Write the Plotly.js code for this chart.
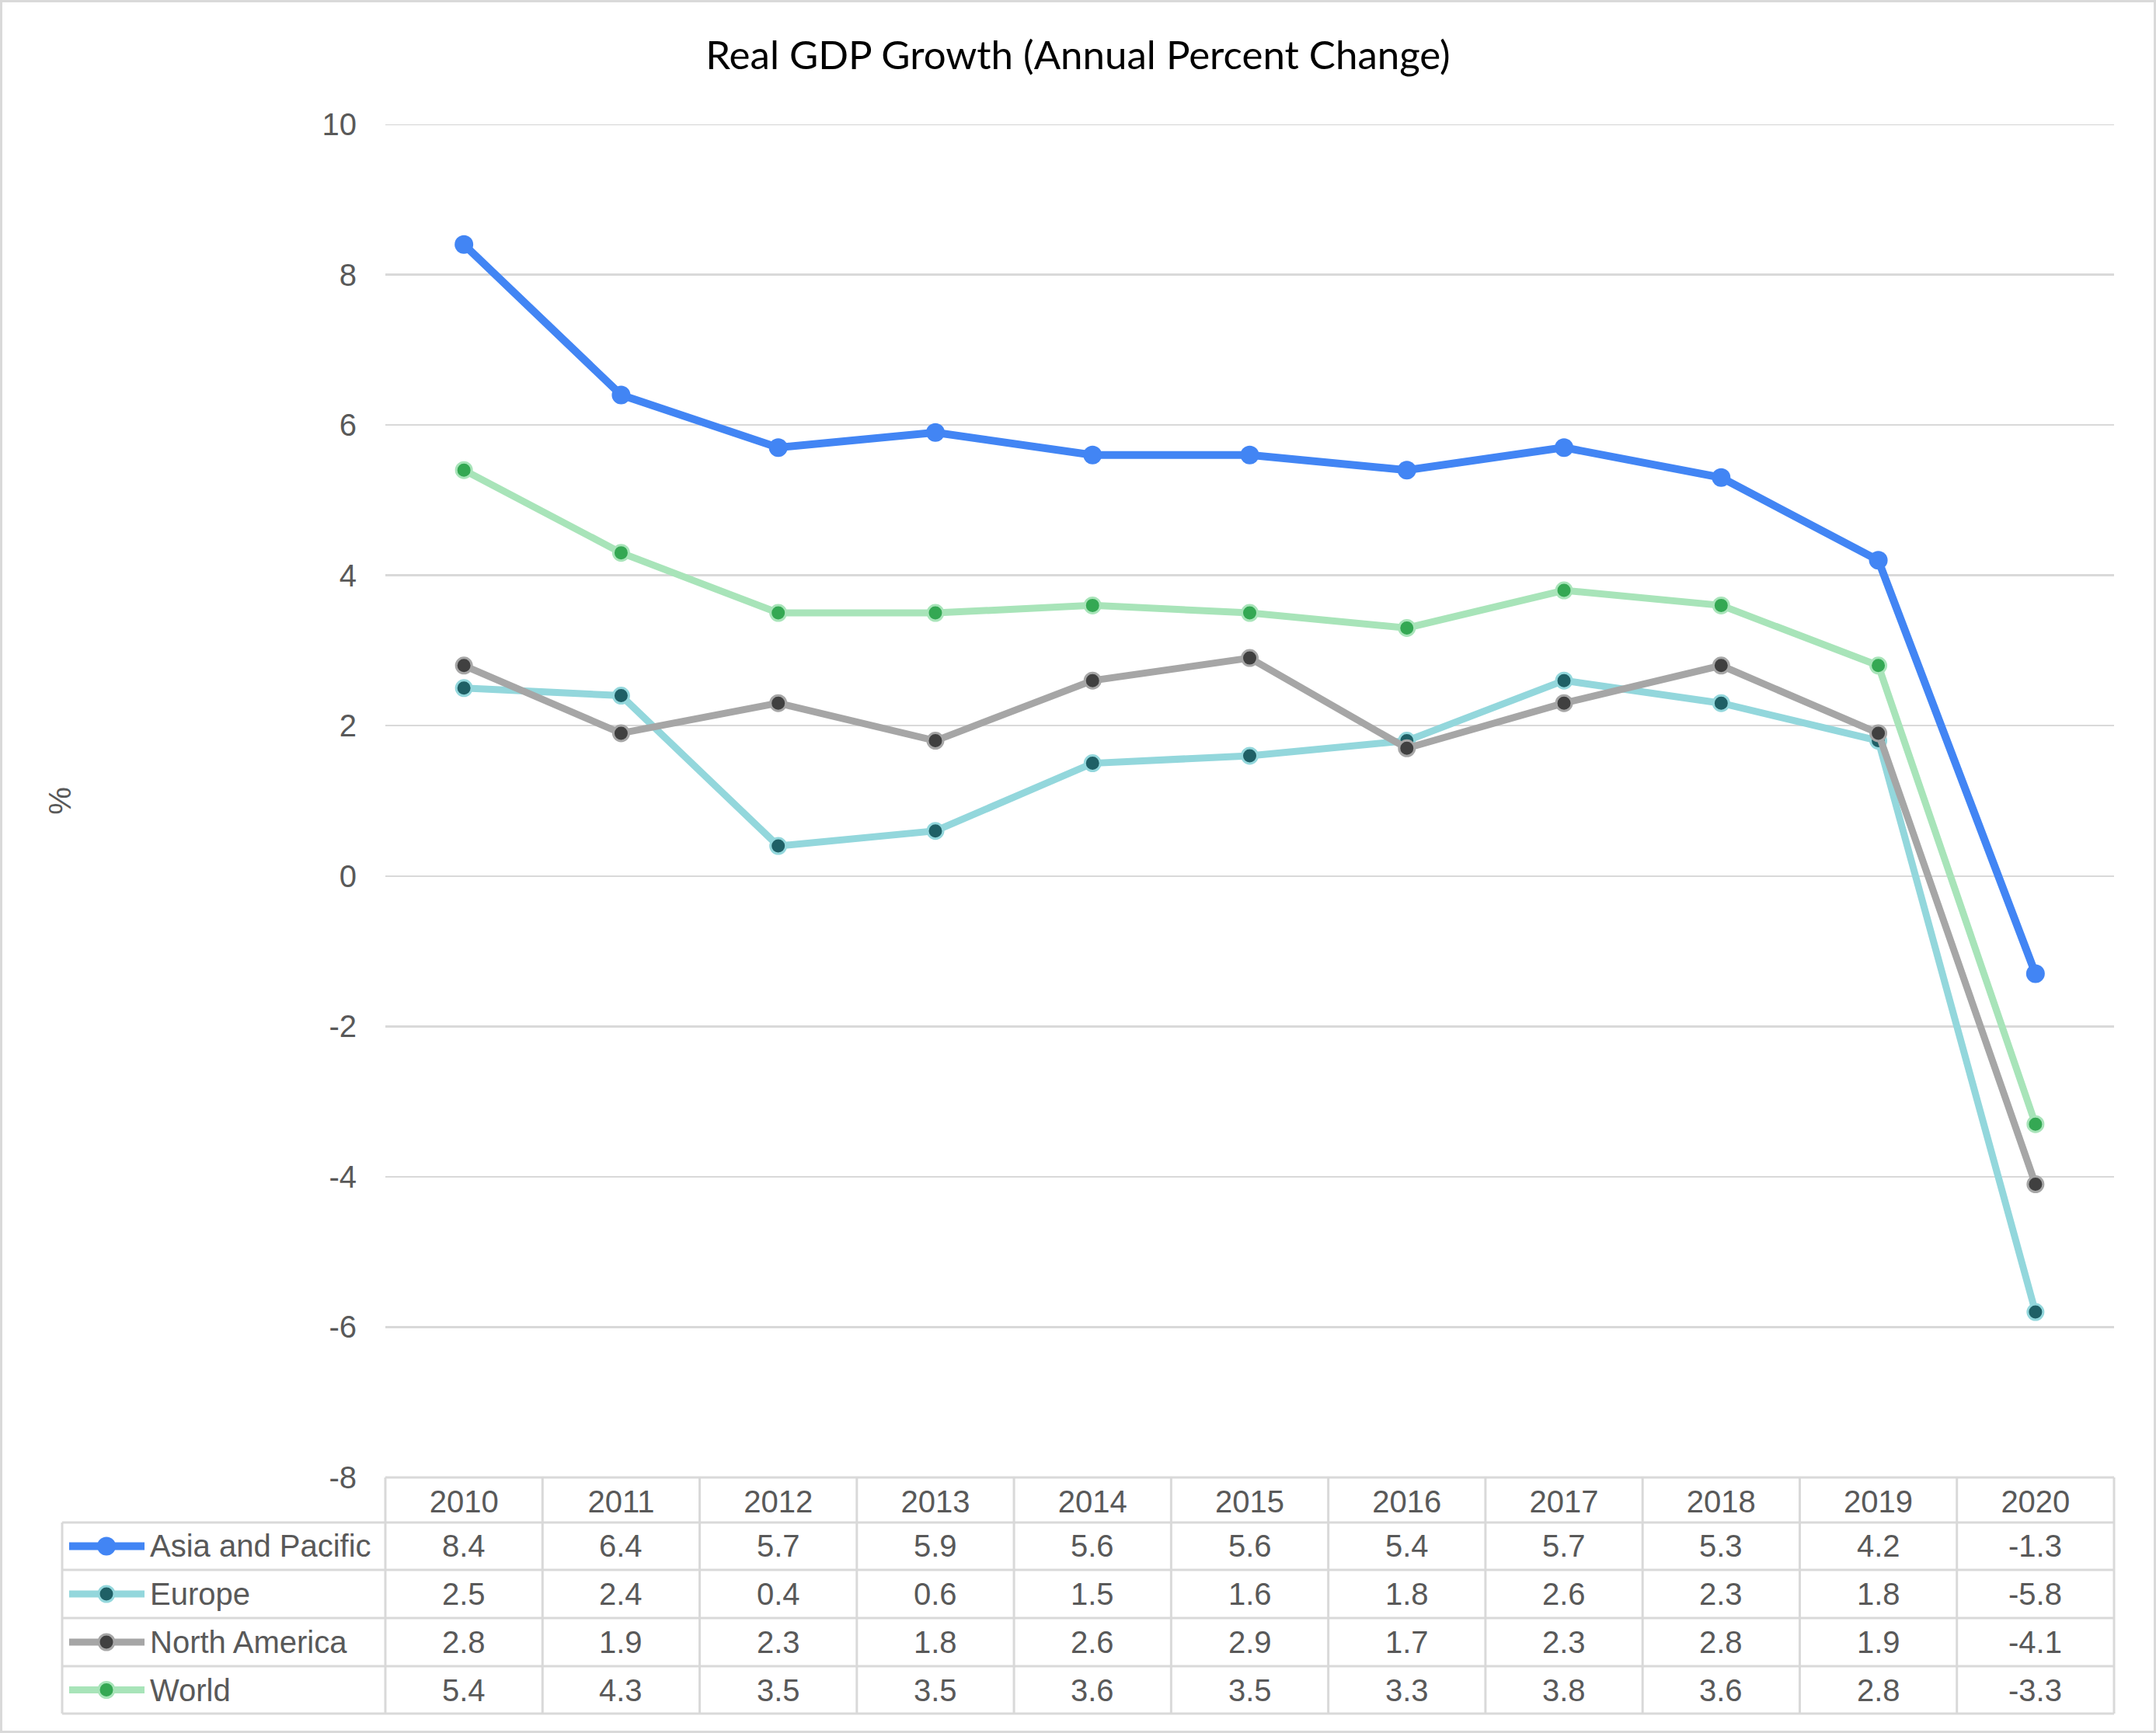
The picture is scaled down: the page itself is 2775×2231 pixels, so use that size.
<!DOCTYPE html>
<html><head><meta charset="utf-8">
<script src="https://cdn.plot.ly/plotly-3.0.1.min.js"></script>
<style>html,body{margin:0;padding:0;background:#fff;overflow:hidden}</style>
</head><body><div id="chart" style="width:2775px;height:2231px"></div>
<script>
// ---- data ----
const years = ['2010','2011','2012','2013','2014','2015','2016','2017','2018','2019','2020'];
const seriesNames = ['Asia and Pacific','Europe','North America','World'];
const asiaPacific = [8.4,6.4,5.7,5.9,5.6,5.6,5.4,5.7,5.3,4.2,-1.3];
const europe = [2.5,2.4,0.4,0.6,1.5,1.6,1.8,2.6,2.3,1.8,-5.8];
const northAmerica = [2.8,1.9,2.3,1.8,2.6,2.9,1.7,2.3,2.8,1.9,-4.1];
const world = [5.4,4.3,3.5,3.5,3.6,3.5,3.3,3.8,3.6,2.8,-3.3];
const yTickVals = [-8,-6,-4,-2,0,2,4,6,8,10];
const yTickText = ['-8','-6','-4','-2','0','2','4','6','8','10'];
const chartTitle = 'Real GDP Growth (Annual Percent Change)';
const yTitle = '%';

// ---- styles / layout geometry ----
const W = 2775, H = 2231;
const L = 496, R = 2721, T = 160, B = 1902;
const tableLeft = 80;
const rowEdges = [1960, 2021, 2083, 2145, 2206];
const gridColor = '#d9d9d9';
const textColor = '#595959';
const tableFont = 'Liberation Sans, Arial, sans-serif';
const styles = [
  {line:'#4285F4', fill:'#4285F4', border:'#4285F4', width:10, size:24, bw:0},
  {line:'#93D7DC', fill:'#1F6066', border:'#93D7DC', width:9, size:20, bw:3},
  {line:'#A6A6A6', fill:'#404040', border:'#A6A6A6', width:9, size:20, bw:3},
  {line:'#A8E4B9', fill:'#34A853', border:'#A8E4B9', width:9, size:20, bw:3}
];
const allSeries = [asiaPacific, europe, northAmerica, world];

const px = x => (x - L) / (R - L);
const py = y => (B - y) / (B - T);

const traces = allSeries.map((vals, i) => ({
  type: 'scatter', mode: 'lines+markers', name: seriesNames[i],
  x: years, y: vals,
  line: {color: styles[i].line, width: styles[i].width},
  marker: {color: styles[i].fill, size: styles[i].size, line: {color: styles[i].border, width: styles[i].bw}},
  cliponaxis: false, showlegend: false, hoverinfo: 'skip'
}));

const shapes = [];
const annotations = [];
const lineShape = (x0, y0, x1, y1, color, width) => ({
  type: 'line', xref: 'paper', yref: 'paper', x0: px(x0), x1: px(x1), y0: py(y0), y1: py(y1),
  line: {color: color, width: width}, layer: 'above'
});
// outer border
shapes.push({type:'rect', xref:'paper', yref:'paper', x0:px(1.5), x1:px(W-1.5), y0:py(1.5), y1:py(H-1.5),
  line:{color:gridColor, width:3}, layer:'below'});
// top grid line (edge of range)
shapes.push({type:'line', xref:'paper', yref:'y', x0:0, x1:1, y0:10, y1:10, line:{color:gridColor, width:2.5}, layer:'below'});
// table lines
const colW = (R - L) / years.length;
shapes.push(lineShape(L, B, R, B, gridColor, 3));
rowEdges.forEach(y => shapes.push(lineShape(tableLeft, y, R, y, gridColor, 3)));
shapes.push(lineShape(tableLeft, rowEdges[0], tableLeft, rowEdges[rowEdges.length-1], gridColor, 3));
for (let k = 0; k <= years.length; k++) {
  const x = L + k * colW;
  shapes.push(lineShape(x, B, x, rowEdges[rowEdges.length-1], gridColor, 3));
}
// rows: legend keys, labels, values
seriesNames.forEach((name, i) => {
  const yc = (rowEdges[i] + rowEdges[i+1]) / 2;
  const r = (styles[i].size) / 2;
  shapes.push(lineShape(89, yc, 186, yc, styles[i].line, styles[i].width));
  shapes.push({type:'circle', xref:'paper', yref:'paper', xsizemode:'pixel', ysizemode:'pixel',
    xanchor: px(137), yanchor: py(yc), x0:-r, x1:r, y0:-r, y1:r,
    fillcolor: styles[i].fill, line:{color: styles[i].border, width: styles[i].bw}, layer:'above'});
  annotations.push({xref:'paper', yref:'paper', x: px(191), y: py(yc), xanchor:'left', yanchor:'middle',
    text: name, showarrow:false, font:{family: tableFont, size:40, color:textColor}});
  allSeries[i].forEach((v, j) => {
    annotations.push({xref:'x', yref:'paper', x: j, y: py(yc), xanchor:'center', yanchor:'middle',
      text: v.toFixed(1), showarrow:false, font:{family: tableFont, size:40, color:textColor}});
  });
});

const layout = {
  width: W, height: H,
  margin: {l: L, r: W - R, t: T, b: H - B, pad: 0},
  paper_bgcolor: '#ffffff', plot_bgcolor: '#ffffff',
  showlegend: false,
  title: {text: chartTitle, x: 0.5, xref: 'container', xanchor: 'center',
    y: 1 - 71 / H, yref: 'container', yanchor: 'middle',
    font: {family: 'Lato, sans-serif', size: 51, color: '#000000'}},
  xaxis: {type: 'category', range: [-0.5, years.length - 0.5], showgrid: false, zeroline: false,
    showline: false, ticks: '', tickfont: {family: tableFont, size: 40, color: textColor},
    ticklabelstandoff: 4, fixedrange: true},
  yaxis: {range: [-8, 10], tickvals: yTickVals, ticktext: yTickText, showgrid: true, gridcolor: gridColor, gridwidth: 2.5,
    zeroline: false, showline: false, ticks: '', tickfont: {family: tableFont, size: 40, color: textColor},
    ticklabelstandoff: 36,
    title: {text: yTitle, standoff: 310, font: {family: tableFont, size: 40, color: textColor}},
    fixedrange: true},
  shapes: shapes,
  annotations: annotations
};

Plotly.newPlot('chart', traces, layout, {staticPlot: true, displayModeBar: false});
</script>
</body></html>
